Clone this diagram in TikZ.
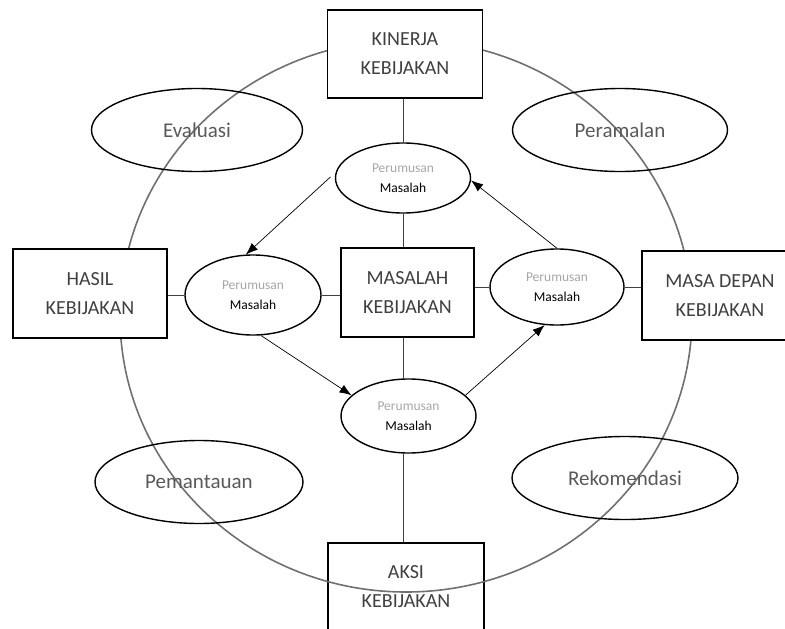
\documentclass[tikz,border=0pt]{standalone}
\usepackage{fontspec}
\setmainfont{Carlito}
\usetikzlibrary{arrows.meta,shapes.geometric}
\definecolor{boxtext}{HTML}{404040}
\definecolor{ovaltext}{HTML}{595959}
\definecolor{softtext}{HTML}{A6A6A6}
\definecolor{ringgray}{HTML}{707070}

\begin{document}
\begin{tikzpicture}[x=1pt,y=-1pt]
\useasboundingbox (0,0) rectangle (785,629);

\tikzset{box/.style = {shape=rectangle,draw,line width=1.4pt,fill=white,text=boxtext,align=center,inner sep=0pt,minimum width=155pt,minimum height=88pt,font=\fontsize{20}{29}\selectfont}}
\tikzset{oval/.style = {shape=ellipse,draw,line width=1.4pt,text=ovaltext,inner sep=0pt,minimum width=214pt,minimum height=83pt,font=\fontsize{21}{25}\selectfont}}
\tikzset{small/.style = {shape=ellipse,draw,line width=1.4pt,text=softtext,align=center,inner sep=0pt,minimum width=135pt,minimum height=72pt,font=\fontsize{13.5}{20}\selectfont}}
\tikzset{link/.style = {draw=black!75,line width=0.8pt}}
\tikzset{edge/.style = {-{Latex[length=12pt,width=9pt]},line width=0.7pt}}
\tikzset{ring/.style = {draw=ringgray,line width=1.6pt}}

% boxes
\node[box,fill=none,minimum width=156pt] (aksi) at (406,587) {AKSI\\KEBIJAKAN};
\draw[ring] (406,316) ellipse [x radius=286, y radius=276];
\node[box] (kinerja) at (405,54) {KINERJA\\KEBIJAKAN};
\node[box,minimum width=154pt,minimum height=89pt] (hasil) at (90,293.5) {HASIL\\KEBIJAKAN};
\node[box,minimum width=133pt,minimum height=89pt] (masalah) at (407.5,292.5) {MASALAH\\KEBIJAKAN};
\node[box,minimum width=156pt,minimum height=89pt] (masa) at (720,295.5) {MASA DEPAN\\KEBIJAKAN};
% big ovals
\node[oval,minimum width=211pt] (evaluasi) at (197,130) {Evaluasi};
\node[oval,minimum width=215pt] (peramalan) at (620,130) {Peramalan};
\node[oval,minimum width=208pt] (pemantauan) at (199,482) {Pemantauan};
\node[oval,minimum width=226pt] (rekomendasi) at (625,478) {Rekomendasi};
% small ovals
\node[small,minimum height=70pt] (top) at (403,178) {Perumusan\\{\color{black}Masalah}};
\node[small,minimum width=136pt,minimum height=80pt] (left) at (253,295) {Perumusan\\{\color{black}Masalah}};
\node[small,minimum width=134pt,minimum height=76pt] (right) at (557,287) {Perumusan\\{\color{black}Masalah}};
\node[small,minimum width=135pt,minimum height=74pt] (bottom) at (408.5,416) {Perumusan\\{\color{black}Masalah}};
% links
\draw[link] (kinerja.south -| top.north) -- (top.north);
\draw[link] (top.south) -- (top.south |- masalah.north);
\draw[link] (masalah.south -| top.south) -- (bottom.north -| top.south);
\draw[link] (bottom.south -| top.south) -- (aksi.north -| top.south);
\draw[link] (hasil.east |- left.west) -- (left.west);
\draw[link] (left.east) -- (left.east -| masalah.west);
\draw[link] (masalah.east |- right.west) -- (right.west);
\draw[link] (right.east) -- (right.east -| masa.west);
% edges
\draw[edge,shorten <=7pt] (top.175) to (left.100);
\draw[edge] (left.-79) to (bottom.160);
\draw[edge] (bottom.20) to (right.252);
\draw[edge] (right.90) to (top.-2);
\end{tikzpicture}
\end{document}
